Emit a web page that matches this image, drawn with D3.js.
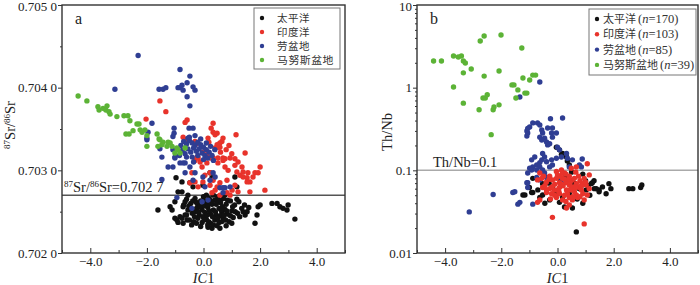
<html>
<head>
<script src="https://d3js.org/d3.v7.min.js"></script>
<style>
  body { margin: 0; background: #fff; }
  .tick text { font-family: "Liberation Serif", serif; font-size: 13px; fill: #222; }
  .tick line { stroke: #333; }
  .lbl { font-family: "Liberation Serif", serif; fill: #222; }
  .cjk { font-family: "Noto Sans CJK SC", sans-serif; font-size: 11px; fill: #333; }
</style>
</head>
<body>
<svg id="chart" width="700" height="285"></svg>
<script>
// series and axis values
const seriesNames = ["太平洋", "印度洋", "劳盆地", "马努斯盆地"];
const seriesCounts = [170, 103, 85, 39];
const seriesColors = ["#111111", "#e8332b", "#2f3e93", "#5cb336"];
const xTicks = [-4, -2, 0, 2, 4];
const xMinorTicks = [-5, -3, -1, 1, 3, 5];
const yTicksA = [0.702, 0.703, 0.704, 0.705];
const yMinorTicksA = [0.7025, 0.7035, 0.7045];
const yTicksB = [0.01, 0.1, 1, 10];
const srLine = 0.7027;
const thNbLine = 0.1;

// panel a : IC1 vs 87Sr/86Sr
const manusA = [[-4.43,0.70390],[-4.12,0.70384],[-3.73,0.70377],[-3.69,0.70373],[-3.55,0.70375],[-3.45,0.70373],[-3.41,0.70378],[-3.34,0.70371],[-3.30,0.70368],[-3.06,0.70365],[-2.81,0.70366],[-2.67,0.70366],[-2.60,0.70360],[-2.35,0.70356],[-2.28,0.70356],[-2.49,0.70348],[-2.74,0.70344],[-2.63,0.70344],[-2.24,0.70349],[-2.07,0.70349],[-2.00,0.70342],[-1.64,0.70344],[-1.57,0.70338],[-2.17,0.70346],[-2.00,0.70329],[-1.54,0.70337],[-1.43,0.70334],[-1.47,0.70331],[-1.61,0.70329],[-1.25,0.70334],[-1.18,0.70333],[-1.29,0.70329],[-1.11,0.70329],[-0.94,0.70327],[-0.90,0.70325],[-0.83,0.70321],[-0.65,0.70327],[-1.01,0.70321]];
const lauA = [[-2.31,0.70439],[-3.13,0.70398],[-1.57,0.70398],[-1.43,0.70398],[-1.33,0.70400],[-0.83,0.70422],[-0.48,0.70414],[-0.90,0.70400],[-0.83,0.70400],[-0.76,0.70403],[-0.72,0.70397],[-0.58,0.70406],[-0.37,0.70401],[-0.30,0.70397],[-0.58,0.70389],[-0.48,0.70378],[-1.82,0.70357],[-1.96,0.70346],[-2.00,0.70339],[-2.00,0.70337],[-1.04,0.70351],[-1.04,0.70345],[-1.08,0.70341],[-0.51,0.70351],[-0.37,0.70351],[-0.55,0.70339],[-1.54,0.70326],[-1.47,0.70316],[-1.25,0.70304],[-1.08,0.70304],[-1.01,0.70315],[-0.83,0.70309],[-0.65,0.70309],[-1.47,0.70289],[-0.94,0.70267],[-0.41,0.70254],[-0.05,0.70262],[0.16,0.70264],[0.41,0.70292],[0.58,0.70279],[0.76,0.70279],[0.94,0.70280],[0.69,0.70273],[-0.72,0.70309],[-0.65,0.70297],[-0.48,0.70304],[-0.37,0.70288],[-0.30,0.70297],[-0.02,0.70292],[0.05,0.70280],[0.23,0.70288],[0.34,0.70297],[0.69,0.70279],[-1.08,0.70325],[-1.01,0.70316],[-0.80,0.70330],[-0.70,0.70335],[-0.60,0.70332],[-0.50,0.70336],[-0.40,0.70333],[-0.30,0.70330],[-0.20,0.70334],[-0.10,0.70331],[0.00,0.70328],[0.10,0.70325],[0.20,0.70322],[0.30,0.70318],[-0.75,0.70324],[-0.65,0.70320],[-0.55,0.70326],[-0.45,0.70322],[-0.35,0.70327],[-0.25,0.70323],[-0.15,0.70326],[-0.05,0.70321],[0.05,0.70318],[0.15,0.70315],[-0.60,0.70316],[-0.40,0.70316],[-0.20,0.70318],[0.00,0.70313],[-0.50,0.70340],[-0.30,0.70342],[-0.10,0.70338],[0.10,0.70333],[0.25,0.70329],[0.40,0.70325],[-0.85,0.70318],[-0.35,0.70310],[0.35,0.70312]];
const indianA = [[-1.54,0.70384],[-1.33,0.70371],[-2.03,0.70362],[-0.65,0.70358],[-0.58,0.70361],[0.34,0.70357],[0.27,0.70351],[0.34,0.70346],[0.48,0.70345],[0.41,0.70343],[0.69,0.70339],[0.65,0.70335],[0.58,0.70333],[1.15,0.70343],[-0.72,0.70340],[-0.65,0.70337],[-0.30,0.70335],[-0.27,0.70332],[0.16,0.70339],[0.19,0.70334],[1.47,0.70321],[0.76,0.70314],[1.11,0.70314],[0.51,0.70328],[0.41,0.70327],[0.58,0.70328],[0.48,0.70331],[0.34,0.70315],[0.51,0.70309],[0.69,0.70312],[0.94,0.70315],[0.76,0.70304],[0.87,0.70300],[1.11,0.70306],[1.22,0.70310],[1.36,0.70304],[1.18,0.70298],[1.40,0.70292],[1.57,0.70297],[1.64,0.70286],[1.54,0.70286],[1.82,0.70297],[2.00,0.70304],[1.93,0.70297],[2.17,0.70276],[1.64,0.70274],[0.23,0.70297],[0.34,0.70288],[0.48,0.70280],[0.30,0.70273],[0.41,0.70276],[0.58,0.70270],[-0.23,0.70316],[-0.12,0.70310],[-0.05,0.70304],[-0.02,0.70322],[0.12,0.70319],[-0.30,0.70312],[-0.19,0.70315],[0.12,0.70309],[0.23,0.70315],[0.30,0.70316],[0.51,0.70315],[0.69,0.70315],[1.29,0.70294],[1.40,0.70298],[1.54,0.70291],[1.75,0.70292],[-0.41,0.70297],[-0.48,0.70285],[-0.30,0.70286],[-0.19,0.70280],[-0.02,0.70286],[0.05,0.70294],[0.23,0.70282],[0.58,0.70285],[0.83,0.70288],[1.01,0.70276],[1.11,0.70282],[1.22,0.70274],[0.83,0.70273],[0.94,0.70270],[0.80,0.70325],[1.00,0.70320],[0.90,0.70330],[0.60,0.70322]];
const pacificA = [[-0.97,0.70291],[-0.90,0.70274],[-0.76,0.70286],[-0.76,0.70274],[-0.48,0.70285],[-0.37,0.70280],[-0.02,0.70282],[0.23,0.70297],[0.30,0.70291],[1.11,0.70292],[1.18,0.70280],[-1.61,0.70252],[-1.18,0.70256],[-1.11,0.70252],[-1.01,0.70262],[-1.01,0.70242],[-0.94,0.70240],[-0.83,0.70244],[-0.90,0.70237],[-0.76,0.70242],[-0.72,0.70236],[-0.58,0.70240],[0.16,0.70231],[0.58,0.70230],[1.47,0.70246],[1.54,0.70250],[1.82,0.70236],[1.89,0.70246],[1.93,0.70256],[2.00,0.70258],[2.42,0.70260],[2.60,0.70260],[2.70,0.70256],[2.81,0.70254],[2.95,0.70252],[2.99,0.70258],[3.23,0.70241],[-0.72,0.70256],[-0.65,0.70246],[-0.60,0.70265],[-0.45,0.70260],[-0.30,0.70266],[-0.20,0.70258],[-0.10,0.70263],[0.00,0.70268],[0.10,0.70260],[0.20,0.70266],[0.30,0.70259],[0.40,0.70264],[0.50,0.70268],[0.60,0.70261],[0.70,0.70266],[0.80,0.70259],[0.95,0.70263],[1.10,0.70258],[1.25,0.70262],[-0.55,0.70252],[-0.40,0.70248],[-0.25,0.70254],[-0.15,0.70246],[-0.05,0.70252],[0.05,0.70249],[0.15,0.70255],[0.25,0.70247],[0.35,0.70252],[0.45,0.70246],[0.55,0.70254],[0.65,0.70249],[0.75,0.70253],[0.85,0.70247],[1.00,0.70251],[1.20,0.70248],[1.35,0.70254],[-0.50,0.70240],[-0.35,0.70238],[-0.20,0.70242],[-0.05,0.70237],[0.10,0.70241],[0.25,0.70236],[0.40,0.70240],[0.55,0.70237],[0.70,0.70242],[0.90,0.70238],[1.05,0.70243],[-0.10,0.70232],[0.30,0.70230],[0.80,0.70233],[0.00,0.70257],[0.35,0.70270],[-0.70,0.70258],[1.45,0.70258],[0.60,0.70245],[-0.30,0.70250],
  [-0.65,0.70262],[-0.52,0.70257],[-0.38,0.70263],[-0.25,0.70261],[-0.12,0.70256],[0.05,0.70263],[0.15,0.70258],[0.27,0.70263],[0.45,0.70259],[0.55,0.70264],[0.67,0.70256],[0.85,0.70264],[1.03,0.70256],[1.18,0.70265],[-0.60,0.70246],[-0.45,0.70254],[-0.32,0.70244],[-0.18,0.70250],[-0.02,0.70244],[0.12,0.70246],[0.20,0.70251],[0.32,0.70244],[0.42,0.70250],[0.50,0.70242],[0.62,0.70252],[0.72,0.70246],[0.82,0.70251],[0.95,0.70245],[1.12,0.70250],[1.28,0.70244],[-0.42,0.70234],[-0.25,0.70236],[0.02,0.70240],[0.18,0.70238],[0.35,0.70234],[0.48,0.70233],[0.65,0.70238],[0.78,0.70240],[1.00,0.70236],[0.15,0.70234],[-0.55,0.70270],[0.10,0.70270],[0.75,0.70270],[1.40,0.70250],[1.60,0.70255]];

// panel b : IC1 vs Th/Nb
const manusB = [[-4.41,2.10],[-4.13,2.10],[-3.70,2.42],[-3.53,2.35],[-3.42,2.42],[-3.35,2.10],[-3.28,1.99],[-3.07,1.68],[-3.35,1.51],[-3.70,1.02],[-3.35,0.65],[-2.75,3.67],[-2.61,4.22],[-2.01,4.34],[-2.08,1.59],[-2.61,1.38],[-2.65,0.75],[-2.57,0.75],[-2.50,0.82],[-2.79,0.54],[-2.29,0.54],[-2.26,0.585],[-2.08,0.62],[-2.36,0.27],[-1.27,3.02],[-1.23,1.31],[-0.99,1.24],[-0.88,1.42],[-0.78,1.42],[-1.62,1.08],[-1.55,1.08],[-1.41,0.94],[-1.16,0.86],[-1.09,0.86],[-1.48,0.75]];
const lauB = [[-3.14,0.0314],[-2.29,0.051],[-1.59,0.054],[-1.52,0.055],[-1.41,0.039],[-1.34,0.041],[-1.06,0.071],[-1.06,0.062],[-1.34,0.77],[-1.09,0.26],[-1.06,0.283],[-0.63,1.17],[-0.25,0.42],[0.18,0.43],[-0.88,0.375],[-0.71,0.375],[-0.63,0.354],[-0.99,0.335],[-1.09,0.30],[-1.06,0.32],[-0.56,0.308],[-0.53,0.283],[-0.63,0.252],[-0.56,0.233],[-0.46,0.245],[-0.39,0.22],[-0.35,0.203],[-0.28,0.21],[-0.35,0.325],[-0.18,0.325],[-0.21,0.283],[-0.04,0.283],[-0.18,0.252],[0.00,0.19],[0.07,0.177],[-0.53,0.16],[-0.46,0.145],[-0.56,0.134],[-0.63,0.124],[-0.74,0.116],[-0.88,0.11],[-0.99,0.106],[-0.92,0.101],[-0.39,0.127],[-0.21,0.134],[-0.18,0.116],[-0.28,0.11],[-0.04,0.14],[0.14,0.145],[0.32,0.16],[0.35,0.14],[0.53,0.134],[0.88,0.137],[0.78,0.116],[-0.74,0.082],[-0.63,0.0766],[-0.88,0.039],[0.18,0.069],[-1.06,0.093],[-1.09,0.071],[-0.74,0.101],[-0.63,0.11],[-0.53,0.101],[-0.46,0.093],[-0.39,0.082],[0.14,0.08],[0.85,0.11],[0.42,0.11],[-0.81,0.145],[-0.92,0.134]];
const indianB = [[1.06,0.12],[0.67,0.11],[0.49,0.106],[-0.04,0.097],[0.14,0.101],[0.25,0.093],[-0.63,0.093],[-0.71,0.0766],[-0.56,0.08],[-0.28,0.085],[-0.18,0.0766],[-0.04,0.08],[0.07,0.071],[0.18,0.08],[0.32,0.071],[0.42,0.0666],[0.53,0.0766],[0.67,0.069],[0.78,0.062],[0.88,0.069],[1.02,0.0666],[1.13,0.06],[1.06,0.0504],[0.95,0.0439],[0.71,0.047],[0.53,0.0439],[0.42,0.0382],[0.32,0.035],[0.18,0.0439],[0.07,0.052],[-0.11,0.0579],[-0.28,0.06],[-0.39,0.054],[-0.53,0.062],[-0.63,0.0439],[-0.18,0.027],[0.95,0.0225],[-0.71,0.041],[1.13,0.088],[0.18,0.093],[0.42,0.085],[0.85,0.0579],[0.67,0.0504],[0.42,0.047],[-0.04,0.047],[-0.21,0.052],[-0.39,0.058],[0.07,0.062],[0.32,0.058],[0.49,0.06],[0.20,0.065],[0.60,0.055],[-0.10,0.068],[0.35,0.052],[0.80,0.075],[-0.40,0.072],[0.00,0.058],[0.55,0.063],[0.25,0.078],[0.90,0.052],[-0.20,0.063],[0.45,0.072],
  [0.10,0.085],[0.30,0.09],[0.60,0.08],[0.75,0.085],[0.95,0.08],[-0.30,0.078],[-0.45,0.065],[0.05,0.055],[0.25,0.05],[0.45,0.058],[0.65,0.062],[0.85,0.065],[1.00,0.072],[-0.10,0.05],[0.15,0.068],[0.40,0.078],[0.55,0.048],[0.30,0.042],[-0.25,0.045],[0.80,0.048],[0.65,0.095],[0.00,0.088],[-0.50,0.085]];
const pacificB = [[1.83,0.069],[2.54,0.06],[2.68,0.06],[2.96,0.062],[3.00,0.0666],[1.73,0.052],[1.48,0.058],[1.31,0.06],[1.20,0.069],[-1.23,0.0504],[-0.88,0.054],[-0.63,0.047],[-0.28,0.0439],[0.07,0.041],[0.18,0.047],[0.53,0.035],[0.67,0.018],[-0.04,0.19],[0.07,0.177],[0.18,0.16],[0.32,0.145],[0.42,0.116],[1.02,0.058],[0.88,0.0666],[0.78,0.06],[-0.53,0.069],[-0.18,0.062],[0.14,0.155],[0.35,0.13],[-0.88,0.08],[-1.16,0.0504],[-0.92,0.054],[-0.53,0.0504],[-0.04,0.052],[0.18,0.048],[0.42,0.052],[1.24,0.071],[1.38,0.06],[1.48,0.055],[0.60,0.07],[1.00,0.075],[0.30,0.085],[0.90,0.09],[0.50,0.095],[-0.30,0.07],[0.10,0.075],[1.10,0.065],[0.70,0.045],
  [1.30,0.075],[1.60,0.063],[1.15,0.05],[-0.70,0.058],[-1.00,0.062],[0.90,0.04],[0.25,0.036],[-0.45,0.04],[1.90,0.06]];

const svg = d3.select("svg#chart");
const plotTop = 5, plotBottom = 253;

function srFormat(d) {
  const s = d3.format(".4f")(d);
  return s.slice(0, 5) + " " + s.slice(5);
}

function drawPanel(p) {
  const g = svg.append("g");
  const x = d3.scaleLinear().domain([-5, 5]).range([p.left, p.right]);
  const y = p.log
    ? d3.scaleLog().domain([0.01, 10]).range([plotBottom, plotTop])
    : d3.scaleLinear().domain([0.702, 0.705]).range([plotBottom, plotTop]);

  // x axis, ticks inward
  const xa = g.append("g").attr("transform", "translate(0," + plotBottom + ")")
    .call(d3.axisBottom(x).tickValues(xTicks).tickSizeInner(-5).tickSizeOuter(0).tickPadding(4).tickFormat(d3.format(".1f")));
  const xm = g.append("g").attr("transform", "translate(0," + plotBottom + ")")
    .call(d3.axisBottom(x).tickValues(xMinorTicks).tickSizeInner(-3).tickSizeOuter(0).tickFormat(""));

  // y axis, ticks outward
  let ya, ym;
  if (p.log) {
    ya = g.append("g").attr("transform", "translate(" + p.left + ",0)")
      .call(d3.axisLeft(y).tickValues(yTicksB).tickSize(4).tickPadding(1).tickFormat(d => String(d)));
    const minor = y.ticks().filter(t => yTicksB.indexOf(t) < 0);
    ym = g.append("g").attr("transform", "translate(" + p.left + ",0)")
      .call(d3.axisLeft(y).tickValues(minor).tickSize(2).tickFormat(""));
  } else {
    ya = g.append("g").attr("transform", "translate(" + p.left + ",0)")
      .call(d3.axisLeft(y).tickValues(yTicksA).tickSize(4).tickPadding(1).tickFormat(srFormat));
    ym = g.append("g").attr("transform", "translate(" + p.left + ",0)")
      .call(d3.axisLeft(y).tickValues(yMinorTicksA).tickSize(2).tickFormat(""));
  }
  [xa, xm, ya, ym].forEach(a => a.select(".domain").remove());
  // keep the top label inside the picture
  ya.selectAll(".tick text").filter(d => y(d) < plotTop + 2).attr("dy", "0.45em");

  // reference line
  const ry = y(p.refValue);
  g.append("line").attr("x1", p.left).attr("x2", p.right).attr("y1", ry).attr("y2", ry)
    .attr("stroke", p.refColor).attr("stroke-width", 1.5);
  p.refLabel(g.append("text").attr("class", "lbl").attr("x", p.left + p.refDx).attr("y", ry - 3).style("font-size", "14.5px"));

  // points
  p.series.forEach(s => {
    g.append("g").selectAll("circle").data(s.data).enter().append("circle")
      .attr("cx", d => x(d[0])).attr("cy", d => y(d[1])).attr("r", 2.7)
      .attr("fill", seriesColors[s.idx]);
  });

  // frame
  g.append("rect").attr("x", p.left).attr("y", plotTop).attr("width", p.right - p.left).attr("height", plotBottom - plotTop)
    .attr("fill", "none").attr("stroke", "#333").attr("stroke-width", 1.4);

  // panel letter
  g.append("text").attr("class", "lbl").attr("x", p.left + 13).attr("y", 24).style("font-size", "16px").text(p.letter);

  // x title
  const xt = g.append("text").attr("class", "lbl").attr("x", x(0)).attr("y", 283)
    .attr("text-anchor", "middle").style("font-size", "14.5px");
  xt.append("tspan").style("font-style", "italic").text("IC");
  xt.append("tspan").text("1");

  // y title
  p.yTitle(g.append("text").attr("class", "lbl").attr("text-anchor", "middle")
    .attr("transform", "translate(" + p.yTitleX + "," + p.yTitleY + ") rotate(-90)")
    .style("font-size", "14.5px"));

  // legend
  const lg = g.append("g");
  lg.append("rect").attr("x", p.legend.x).attr("y", p.legend.y).attr("width", p.legend.w).attr("height", p.legend.h)
    .attr("fill", "#fff").attr("stroke", "#777").attr("stroke-width", 1);
  seriesNames.forEach((name, i) => {
    const cy = p.legend.y + 10 + i * p.legend.step;
    lg.append("circle").attr("cx", p.legend.x + 8).attr("cy", cy).attr("r", 2.2).attr("fill", seriesColors[i]);
    const t = lg.append("text").attr("class", "cjk").attr("x", p.legend.x + p.legend.tx).attr("y", cy + 4);
    if (p.counts) {
      t.append("tspan").text(name);
      const c = t.append("tspan").attr("dx", 2).style("font-family", "Liberation Serif").style("font-size", "12.5px");
      c.append("tspan").text("(");
      c.append("tspan").style("font-style", "italic").text("n");
      c.append("tspan").text("=" + seriesCounts[i] + ")");
    } else {
      t.style("font-size", p.legend.font).style("letter-spacing", "0.5px").text(name)
        .attr("textLength", p.legend.widths[i]).attr("lengthAdjust", "spacingAndGlyphs");
    }
  });
}

function supText(sel, parts) {
  parts.forEach(pt => {
    const ts = sel.append("tspan").text(pt[0]);
    if (pt[1]) ts.attr("baseline-shift", "super").style("font-size", "9px");
  });
}

drawPanel({
  left: 62, right: 345, log: false, letter: "a",
  refValue: srLine, refColor: "#555", refDx: 2,
  refLabel: t => supText(t, [["87", true], ["Sr/", false], ["86", true], ["Sr=0.702 7", false]]),
  yTitleX: 15, yTitleY: 125,
  yTitle: t => supText(t, [["87", true], ["Sr/", false], ["86", true], ["Sr", false]]),
  series: [{ idx: 0, data: pacificA }, { idx: 1, data: indianA }, { idx: 2, data: lauA }, { idx: 3, data: manusA }],
  legend: { x: 254, y: 8, w: 86, h: 61, step: 14, tx: 23, font: "10px", widths: [33, 33, 33, 57] },
  counts: false
});

drawPanel({
  left: 417, right: 698, log: true, letter: "b",
  refValue: thNbLine, refColor: "#aaa", refDx: 16,
  refLabel: t => t.text("Th/Nb=0.1"),
  yTitleX: 392, yTitleY: 132,
  yTitle: t => t.text("Th/Nb"),
  series: [{ idx: 0, data: pacificB }, { idx: 2, data: lauB }, { idx: 1, data: indianB }, { idx: 3, data: manusB }],
  legend: { x: 589, y: 9, w: 107, h: 66, step: 15.3, tx: 14 },
  counts: true
});
</script>
</body>
</html>
